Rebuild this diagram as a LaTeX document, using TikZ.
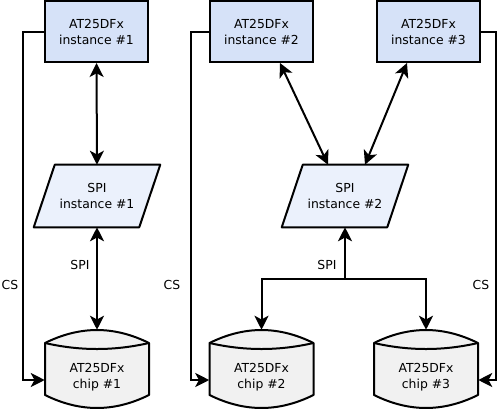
\documentclass[tikz,border=0pt]{standalone}
\usepackage{fontspec}
\setmainfont{DejaVu Sans}
\usetikzlibrary{arrows.meta,calc,backgrounds}
\definecolor{boxfill}{RGB}{214,226,248}
\definecolor{parafill}{RGB}{235,241,252}
\definecolor{chipfill}{RGB}{241,241,241}
\begin{document}
\begin{tikzpicture}[x=0.75pt,y=-0.75pt,
  txt/.style={font=\fontsize{9.3pt}{12pt}\selectfont, align=center, inner sep=0pt},
  inst/.style={txt, draw, line width=1.5pt, fill=boxfill, minimum width=77.25pt, minimum height=45.75pt},
  spishape/.style={txt, minimum width=78.75pt, minimum height=46.5pt},
  chipshape/.style={minimum width=78pt, minimum height=58.5pt, inner sep=0pt},
  link/.style={line width=1.5pt, {Stealth[length=10.5pt,width=10.5pt,inset=2.8pt]}-{Stealth[length=10.5pt,width=10.5pt,inset=2.8pt]}},
  onearrow/.style={line width=1.5pt, -{Stealth[length=10.5pt,width=10.5pt,inset=2.8pt]}},
  csline/.style={line width=1.5pt, -{Stealth[length=10.5pt,width=10.5pt,inset=2.8pt]}},
  outline/.style={line width=1.5pt, line join=round}
]
\useasboundingbox (0,0) rectangle (500,411);

% instances
\node[inst] (box1) at (96.5,31.5) {AT25DFx\\instance \#1};
\node[inst] (box2) at (261.5,31.5) {AT25DFx\\instance \#2};
\node[inst] (box3) at (428.5,31.5) {AT25DFx\\instance \#3};

% SPI parallelograms
\node[spishape] (spi1) at (97,196) {SPI\\instance \#1};
\node[spishape] (spi2) at (345,196) {SPI\\instance \#2};
\begin{scope}[on background layer]
\foreach \s in {spi1,spi2}{
  \draw[outline, fill=parafill]
    ($(\s.north west)+(10.5,0)$) -- ($(\s.north east)+(10.5,0)$) --
    ($(\s.south east)+(-10.5,0)$) -- ($(\s.south west)+(-10.5,0)$) -- cycle;
}
\end{scope}

% chips
\node[chipshape] (chip1) at (97,369) {};
\node[chipshape] (chip2) at (261.5,369) {};
\node[chipshape] (chip3) at (426,369) {};
\foreach \c/\n in {chip1/1,chip2/2,chip3/3}{
  \draw[outline, fill=chipfill]
    ($(\c.center)+(-52,-26)$) .. controls ($(\c.center)+(-17,-43.3)$) and ($(\c.center)+(17,-43.3)$) .. ($(\c.center)+(52,-26)$)
    -- ($(\c.center)+(52,26)$)
    .. controls ($(\c.center)+(17,43.3)$) and ($(\c.center)+(-17,43.3)$) .. ($(\c.center)+(-52,26)$) -- cycle;
  \draw[outline]
    ($(\c.center)+(-52,-26)$) .. controls ($(\c.center)+(-17,-18)$) and ($(\c.center)+(17,-18)$) .. ($(\c.center)+(52,-26)$);
  \node[txt] (\c label) at ($(\c.center)+(0,8)$) {AT25DFx\\chip \#\n};
}

% instance <-> SPI
\draw[link] (box1.south) -- (spi1.north);
\draw[link] ($(box2.south)+(18.5,0)$) -- ($(spi2.north)+(-17,0)$);
\draw[link] ($(box3.south)+(-21.5,0)$) -- ($(spi2.north)+(20,0)$);

% SPI <-> chips
\draw[link] (spi1.south) -- (chip1.north);
\coordinate (bus) at ($(spi2.south)+(0,52)$);
\draw[onearrow] (bus) -- (spi2.south);
\draw[onearrow] (bus) -| (chip2.north);
\draw[onearrow] (bus) -| (chip3.north);

% CS lines
\draw[csline] (box1.west) -- ++(-21,0) |- ($(chip1.west)+(0,11)$);
\draw[csline] (box2.west) -- ++(-18,0) |- ($(chip2.west)+(0,11)$);
\draw[csline] (box3.east) -- ++(15,0) |- ($(chip3.east)+(0,11)$);

% labels
\node[txt] (cs1) at (10,285) {CS};
\node[txt] (cs2) at (172,285) {CS};
\node[txt] (cs3) at (481,285) {CS};
\node[txt] (spil1) at (80,265) {SPI};
\node[txt] (spil2) at (327,265) {SPI};
\end{tikzpicture}
\end{document}
